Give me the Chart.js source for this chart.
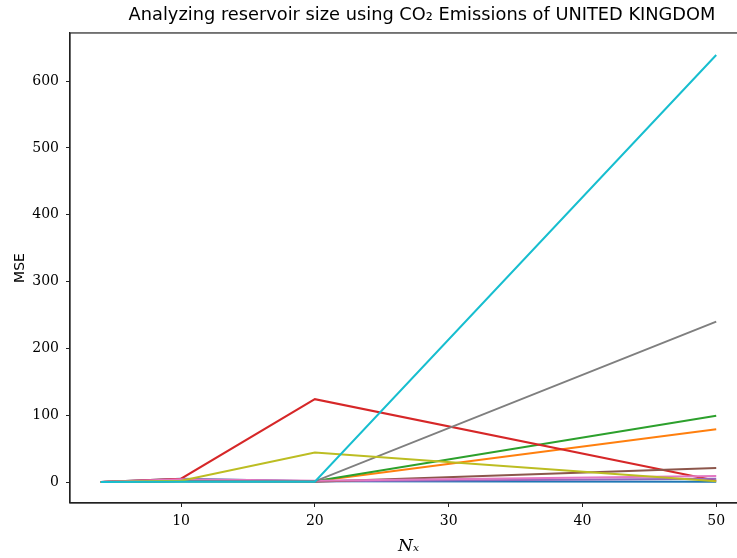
<!DOCTYPE html>
<html><head><meta charset="utf-8">
<script src="https://cdn.jsdelivr.net/npm/chart.js@4.4.1/dist/chart.umd.min.js"></script>
<style>html,body{margin:0;padding:0;background:#fff;overflow:hidden}#wrap{width:737px;height:558px;overflow:hidden}</style>
</head><body><div id="wrap"><canvas id="c" width="844" height="558"></canvas></div>
<script>
const reservoirSizes = [4, 10, 20, 50];
const xTicks = [10, 20, 30, 40, 50];
const yTicks = [0, 100, 200, 300, 400, 500, 600];
const series0 = [0, 5, 1, 0.5];
const series1 = [0, 2, 1, 79];
const series2 = [0, 1, 1, 99];
const series3 = [0, 5, 124, 2];
const series4 = [0, 3, 1, 5];
const series5 = [0, 1, 0.5, 21];
const series6 = [0, 4, 2, 9];
const series7 = [0, 1, 1, 240];
const series8 = [0, 2, 44, 1];
const series9 = [0, 0.5, 0.5, 639];
const allSeries = [series0, series1, series2, series3, series4, series5, series6, series7, series8, series9];
const colors = ['#1f77b4','#ff7f0e','#2ca02c','#d62728','#9467bd','#8c564b','#e377c2','#7f7f7f','#bcbd22','#17becf'];

const datasets = allSeries.map((s, i) => ({
  data: s.map((v, j) => ({x: reservoirSizes[j], y: v})),
  borderColor: colors[i],
  backgroundColor: colors[i],
  borderWidth: 2,
  pointRadius: 0,
  tension: 0,
  fill: false,
  order: -i
}));

const frame = {
  id: 'frame',
  afterDraw(chart) {
    const {ctx, chartArea: a} = chart;
    ctx.save();
    ctx.strokeStyle = '#222';
    ctx.lineWidth = 1.2;
    ctx.strokeRect(a.left, a.top, a.right - a.left, a.bottom - a.top);
    ctx.restore();
  }
};

new Chart(document.getElementById('c'), {
  type: 'line',
  data: { datasets },
  plugins: [frame],
  options: {
    responsive: false,
    animation: false,
    layout: { padding: 0 },
    plugins: {
      legend: { display: false },
      tooltip: { enabled: false },
      title: {
        display: true,
        fullSize: true,
        text: 'Analyzing reservoir size using CO\u2082 Emissions of UNITED KINGDOM',
        color: '#000',
        font: { family: 'DejaVu Sans', size: 17.8, weight: 'normal', lineHeight: 1.2 },
        padding: { top: 4.6, bottom: 7 }
      }
    },
    scales: {
      x: {
        type: 'linear',
        min: 1.7, max: 52.3,
        afterBuildTicks: s => { s.ticks = xTicks.map(v => ({value: v})); },
        afterFit: s => { s.height = 55; },
        grid: { drawOnChartArea: false, drawTicks: true, tickLength: 4, color: '#222' },
        border: { display: true, color: '#222', width: 1.2 },
        ticks: { color: '#000', font: { family: 'DejaVu Serif', size: 14 }, padding: 6, maxRotation: 0 },
        title: { display: true, text: 'N\u2093', color: '#000', font: { family: 'DejaVu Serif', size: 17, style: 'italic' }, padding: { top: 0, bottom: 1 } }
      },
      y: {
        type: 'linear',
        position: 'left',
        min: -31.4, max: 672,
        afterBuildTicks: s => { s.ticks = yTicks.map(v => ({value: v})); },
        afterFit: s => { s.width = 70; },
        grid: { drawOnChartArea: false, drawTicks: true, tickLength: 4, color: '#222' },
        border: { display: true, color: '#222', width: 1.2 },
        ticks: { color: '#000', font: { family: 'DejaVu Serif', size: 14 }, padding: 7 },
        title: { display: true, text: 'MSE', color: '#000', font: { family: 'DejaVu Sans', size: 14 }, padding: { top: 12, bottom: 0 } }
      },
      yRight: {
        type: 'linear',
        position: 'right',
        display: true,
        min: 0, max: 1,
        afterFit: s => { s.width = 97; },
        grid: { display: false },
        border: { display: false },
        ticks: { display: false }
      }
    }
  }
});
</script></body></html>
